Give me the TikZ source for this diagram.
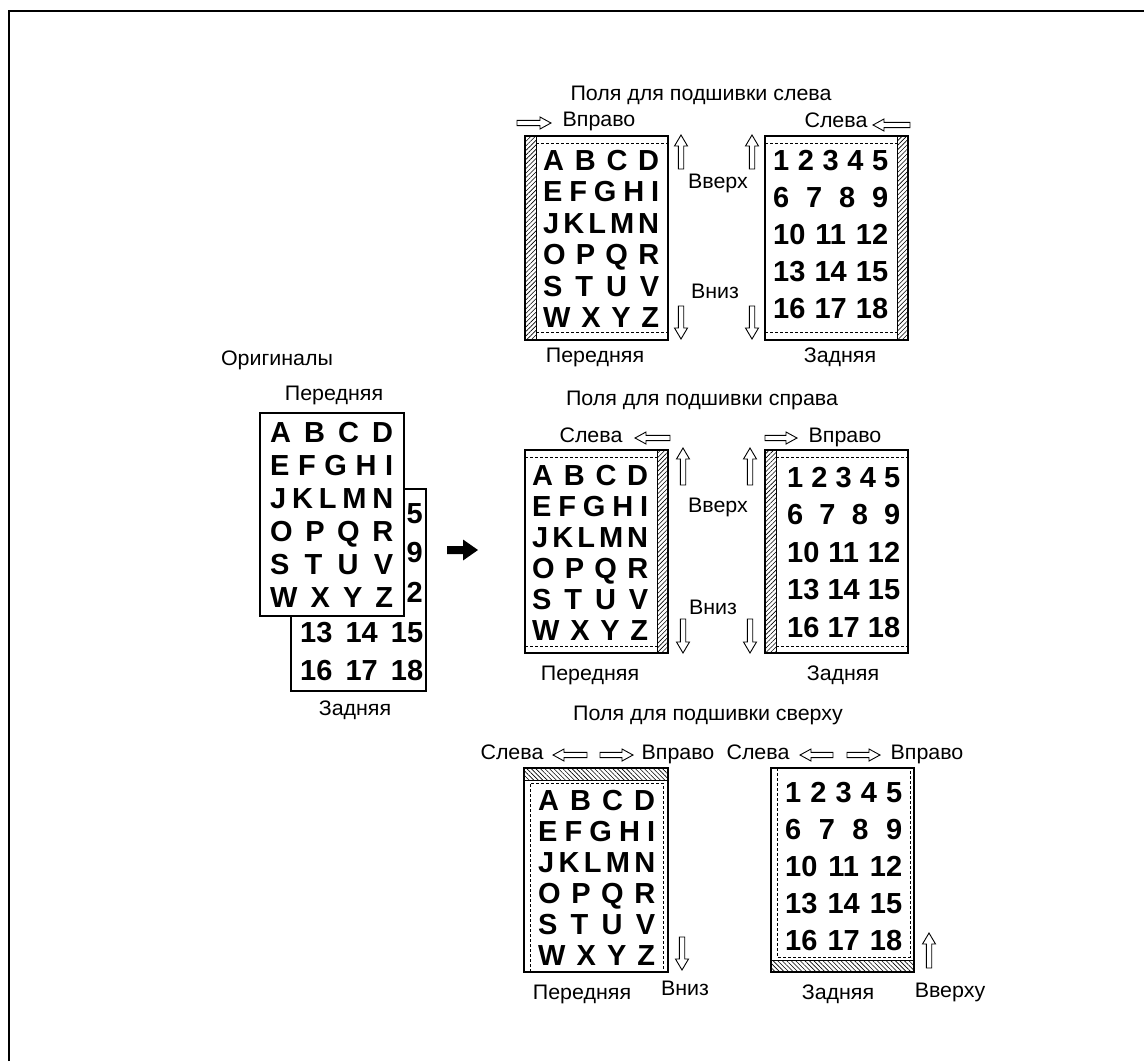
\documentclass[tikz,border=0pt]{standalone}
\usepackage{fontspec}
\setmainfont{Liberation Sans}
\newfontfamily\lblfont{Liberation Sans}[FakeStretch=1.02]
\newfontfamily\bigfont{Liberation Sans}
\usetikzlibrary{patterns.meta}

\tikzset{
  lbl/.style={font=\lblfont\fontsize{21}{24}\selectfont, inner sep=0pt, text height=15pt, text depth=0pt},
  gridrow/.style={font=\bigfont\bfseries\fontsize{29}{32}\selectfont, inner sep=0pt, anchor=west, text height=20.8pt, text depth=0pt},
  page/.style={draw, line width=1.2pt},
  dashln/.style={dash pattern=on 3pt off 2pt, line width=0.8pt},
  hatchv/.style={pattern={Lines[angle=45,distance=3.2pt,line width=0.6pt]}},
  hatchh/.style={pattern={Lines[angle=-45,distance=3.2pt,line width=0.6pt]}},
  harrow/.style={draw, fill=white, line width=0.9pt, line join=miter},
}

\newcommand\lettergrid[5]{%
  \foreach \t [count=\i] in {A\hfill B\hfill C\hfill D,E\hfill F\hfill G\hfill H\hfill I,J\hfill K\hfill L\hfill M\hfill N,O\hfill P\hfill Q\hfill R,S\hfill T\hfill U\hfill V,W\hfill X\hfill Y\hfill Z}
  {\node[gridrow] (#1\i) at (#2,{#3+(\i-1)*#4}) {\hbox to #5pt{\t}};}}
\newcommand\numbergrid[5]{%
  \foreach \t [count=\i] in {1\hfill 2\hfill 3\hfill 4\hfill 5,6\hfill 7\hfill 8\hfill 9,10\hfill 11\hfill 12,13\hfill 14\hfill 15,16\hfill 17\hfill 18}
  {\node[gridrow] (#1\i) at (#2,{#3+(\i-1)*#4}) {\hbox to #5pt{\t}};}}

% hollow arrows
\newcommand\arrUp[3]{% x, y tip, y tail
  \draw[harrow] (#1,#2) -- (#1+6.5,#2+11) -- (#1+2.7,#2+11) -- (#1+2.7,#3) -- (#1-2.7,#3) -- (#1-2.7,#2+11) -- (#1-6.5,#2+11) -- cycle;}
\newcommand\arrDown[3]{% x, y tip, y tail
  \draw[harrow] (#1,#2) -- (#1+6.5,#2-11) -- (#1+2.7,#2-11) -- (#1+2.7,#3) -- (#1-2.7,#3) -- (#1-2.7,#2-11) -- (#1-6.5,#2-11) -- cycle;}
\newcommand\arrRight[3]{% y, x tip, x tail
  \draw[harrow] (#2,#1) -- (#2-11,#1-6) -- (#2-11,#1-2.6) -- (#3,#1-2.6) -- (#3,#1+2.6) -- (#2-11,#1+2.6) -- (#2-11,#1+6) -- cycle;}
\newcommand\arrLeft[3]{% y, x tip, x tail
  \draw[harrow] (#2,#1) -- (#2+11,#1-6) -- (#2+11,#1-2.6) -- (#3,#1-2.6) -- (#3,#1+2.6) -- (#2+11,#1+2.6) -- (#2+11,#1+6) -- cycle;}

\begin{document}
\begin{tikzpicture}[x=1pt,y=-1pt]
\useasboundingbox[fill=white] (0,0) rectangle (1144,1061);
% frame
\draw[line width=2pt] (9,1061) -- (9,11) -- (1144,11);

% ================= Originals =================
\node[lbl] (origt) at (277,358) {Оригиналы};
\node[lbl] (origf) at (334,393) {Передняя};
\filldraw[page, fill=white] (291,489) rectangle (426,691);
\node[gridrow, anchor=east] (ob1) at (423,513) {5};
\node[gridrow, anchor=east] (ob2) at (423,552) {9};
\node[gridrow, anchor=east] (ob3) at (423,592) {2};
\node[gridrow] (ob4) at (300,632) {\hbox to 123pt{13\hfill 14\hfill 15}};
\node[gridrow] (ob5) at (300,670) {\hbox to 123pt{16\hfill 17\hfill 18}};
\filldraw[page, fill=white] (260,413) rectangle (404,616);
\lettergrid{of}{270}{432}{33}{123}
\node[lbl] (origb) at (355,708) {Задняя};
% black arrow
\fill (447,546) -- (463,546) -- (463,539.5) -- (478,550) -- (463,560.5) -- (463,554) -- (447,554) -- cycle;

% ================= Panel 1: left binding =================
\node[lbl] (t1) at (701,93) {Поля для подшивки слева};
\node[lbl] (p1r) at (599,119) {Вправо};
\arrRight{123}{551}{517}
\node[lbl] (p1l) at (836,120) {Слева};
\arrLeft{125}{873}{910}
% front
\path[hatchv] (525,136) rectangle (536,340);
\draw[line width=1pt] (536,136) -- (536,340);
\draw[dashln] (536,143) -- (668,143) (536,332) -- (668,332);
\draw[page] (525,136) rectangle (668,340);
\lettergrid{a}{543}{160}{31.4}{116}
% back
\path[hatchv] (897,136) rectangle (908,340);
\draw[line width=1pt] (897,136) -- (897,340);
\draw[dashln] (765,143) -- (897,143) (765,332) -- (897,332);
\draw[page] (765,136) rectangle (908,340);
\numbergrid{b}{773}{160}{37}{115}
\arrUp{681}{135}{169}
\arrUp{752}{135}{169}
\arrDown{681}{339}{306}
\arrDown{752}{339}{306}
\node[lbl] (p1u) at (718,181) {Вверх};
\node[lbl] (p1d) at (715,291) {Вниз};
\node[lbl] (p1f) at (595,355) {Передняя};
\node[lbl] (p1b) at (840,355) {Задняя};

% ================= Panel 2: right binding =================
\node[lbl] (t2) at (702,398) {Поля для подшивки справа};
\node[lbl] (p2l) at (591,435) {Слева};
\arrLeft{438}{635}{670}
\arrRight{438}{797}{765}
\node[lbl] (p2r) at (845,435) {Вправо};
% front
\path[hatchv] (657,450) rectangle (668,653);
\draw[line width=1pt] (657,450) -- (657,653);
\draw[dashln] (525,457) -- (657,457) (525,646) -- (657,646);
\draw[page] (525,450) rectangle (668,653);
\lettergrid{c}{532}{475}{31}{116}
% back
\path[hatchv] (765,450) rectangle (776,653);
\draw[line width=1pt] (776,450) -- (776,653);
\draw[dashln] (776,457) -- (908,457) (776,646) -- (908,646);
\draw[page] (765,450) rectangle (908,653);
\numbergrid{d}{787}{477}{37.5}{113}
\arrUp{683}{448}{485}
\arrUp{750}{448}{485}
\arrDown{683}{653}{619}
\arrDown{750}{653}{619}
\node[lbl] (p2u) at (718,505) {Вверх};
\node[lbl] (p2d) at (713,607) {Вниз};
\node[lbl] (p2f) at (590,673) {Передняя};
\node[lbl] (p2b) at (843,673) {Задняя};

% ================= Panel 3: top binding =================
\node[lbl] (t3) at (708,713) {Поля для подшивки сверху};
\node[lbl] (p3l1) at (512,752) {Слева};
\arrLeft{755}{553}{587}
\arrRight{755}{633}{600}
\node[lbl] (p3r1) at (678,752) {Вправо};
\node[lbl] (p3l2) at (758,752) {Слева};
\arrLeft{755}{800}{833}
\arrRight{755}{880}{847}
\node[lbl] (p3r2) at (927,752) {Вправо};
% front
\path[hatchh] (524,768) rectangle (668,780);
\draw[line width=1pt] (524,780) -- (668,780);
\draw[dashln] (530,972) -- (530,783) -- (663,783) -- (663,972);
\draw[page] (524,768) rectangle (668,972);
\lettergrid{e}{538}{800}{31}{117}
% back
\path[hatchh] (771,960) rectangle (914,972);
\draw[line width=1pt] (771,960) -- (914,960);
\draw[dashln] (777,768) -- (777,957) -- (910,957) -- (910,768);
\draw[page] (771,768) rectangle (914,972);
\numbergrid{f}{785}{792}{37}{117}
\arrDown{682}{970}{937}
\arrUp{929}{933}{968}
\node[lbl] (p3d) at (685,988) {Вниз};
\node[lbl] (p3u) at (950,990) {Вверху};
\node[lbl] (p3f) at (582,992) {Передняя};
\node[lbl] (p3b) at (838,992) {Задняя};
\end{tikzpicture}
\end{document}
